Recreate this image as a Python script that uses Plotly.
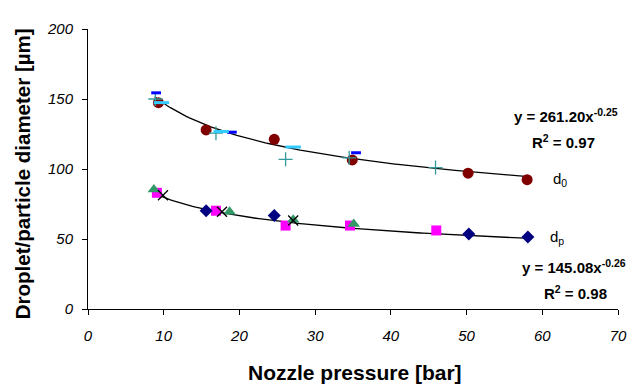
import numpy as np
import plotly.graph_objects as go

# ---- data ----
d0_circle_x = [9.3, 15.6, 24.6, 34.9, 50.2, 58.0]
d0_circle_y = [147.4, 127.9, 121.2, 106.5, 97.0, 92.4]
d0_plus_x = [8.9, 16.9, 26.1, 34.5, 45.9]
d0_plus_y = [150.0, 125.6, 106.9, 108.0, 101.0]
d0_bdash_x = [9.0, 19.0, 35.4]
d0_bdash_y = [154.4, 126.3, 111.6]
d0_cdash_x = [9.7, 17.6, 27.1]
d0_cdash_y = [147.4, 126.8, 115.7]

dp_diamond_x = [15.6, 24.6, 50.3, 58.1]
dp_diamond_y = [70.2, 66.7, 53.6, 51.5]
dp_square_x = [9.1, 16.9, 26.1, 34.6, 46.0]
dp_square_y = [83.0, 70.2, 59.6, 59.6, 56.1]
dp_triangle_x = [8.7, 18.7, 27.1, 35.1]
dp_triangle_y = [85.4, 69.5, 63.8, 60.8]
dp_x_x = [9.9, 17.7, 27.1]
dp_x_y = [81.2, 69.5, 63.2]

# power-law trendlines y = a * x^b
d0_fit_a, d0_fit_b = 261.20, -0.25
dp_fit_a, dp_fit_b = 145.08, -0.26
fit_x = np.linspace(8.8, 58.5, 120)

FONT = "Liberation Sans, Arial, sans-serif"

fig = go.Figure()

fig.add_trace(go.Scatter(x=fit_x, y=d0_fit_a * fit_x ** d0_fit_b, mode="lines",
                         line=dict(color="black", width=1.3)))
fig.add_trace(go.Scatter(x=fit_x, y=dp_fit_a * fit_x ** dp_fit_b, mode="lines",
                         line=dict(color="black", width=1.3)))

fig.add_trace(go.Scatter(x=d0_circle_x, y=d0_circle_y, mode="markers",
                         marker=dict(symbol="circle", size=11, color="#800000")))
fig.add_trace(go.Scatter(x=d0_plus_x, y=d0_plus_y, mode="markers",
                         marker=dict(symbol="cross-thin", size=10, color="#339999",
                                     line=dict(color="#339999", width=1.3))))
fig.add_trace(go.Scatter(x=d0_bdash_x, y=d0_bdash_y, mode="markers",
                         marker=dict(symbol="line-ew", size=7, color="#0000FF",
                                     line=dict(color="#0000FF", width=3))))
fig.add_trace(go.Scatter(x=d0_cdash_x, y=d0_cdash_y, mode="markers",
                         marker=dict(symbol="line-ew", size=11, color="#33CCFF",
                                     line=dict(color="#33CCFF", width=3))))

fig.add_trace(go.Scatter(x=dp_square_x, y=dp_square_y, mode="markers",
                         marker=dict(symbol="square", size=10, color="#FF00FF")))
fig.add_trace(go.Scatter(x=dp_triangle_x, y=dp_triangle_y, mode="markers",
                         marker=dict(symbol="triangle-up", size=11, color="#339966")))
fig.add_trace(go.Scatter(x=dp_diamond_x, y=dp_diamond_y, mode="markers",
                         marker=dict(symbol="diamond", size=10, color="#000080")))
fig.add_trace(go.Scatter(x=dp_x_x, y=dp_x_y, mode="markers",
                         marker=dict(symbol="x-thin", size=10, color="#000000",
                                     line=dict(color="#000000", width=1.3))))

ann = [
    dict(x=62.4, y=92.6, text="d<sub>0</sub>", size=15),
    dict(x=61.9, y=51.2, text="d<sub>p</sub>", size=15),
    dict(x=63.1, y=138.0, text="<b>y = 261.20x<sup>-0.25</sup></b>", size=15),
    dict(x=62.8, y=119.3, text="<b>R<sup>2</sup> = 0.97</b>", size=15),
    dict(x=64.2, y=30.5, text="<b>y = 145.08x<sup>-0.26</sup></b>", size=15),
    dict(x=64.4, y=11.9, text="<b>R<sup>2</sup> = 0.98</b>", size=15),
]
annotations = []
for a in ann:
    annotations.append(dict(xref="x", yref="y", showarrow=False,
                            xanchor="center", yanchor="middle",
                            font=dict(family=FONT, color="black", size=a["size"]),
                            x=a["x"], y=a["y"], text=a["text"]))
annotations.append(dict(xref="paper", yref="paper", x=0.503, y=-0.225,
                        text="<b>Nozzle pressure [bar]</b>", showarrow=False,
                        xanchor="center", yanchor="middle",
                        font=dict(family=FONT, size=21, color="black")))
annotations.append(dict(xref="paper", yref="paper", x=-0.123, y=0.484,
                        text="<b>Droplet/particle diameter [µm]</b>", showarrow=False,
                        textangle=-90, xanchor="center", yanchor="middle",
                        font=dict(family=FONT, size=20.5, color="black")))

# page body has an 8px margin, so the figure is offset by 8px in the window
fig.update_layout(
    width=631, height=377,
    margin=dict(l=80, r=14, t=16, b=76),
    paper_bgcolor="white", plot_bgcolor="white",
    showlegend=False,
    font=dict(family=FONT, color="black"),
    annotations=annotations,
    xaxis=dict(range=[0, 70], tickvals=list(range(0, 71, 10)),
               showgrid=False, zeroline=False, showline=True, linecolor="black",
               linewidth=1, ticks="outside", ticklen=5, tickcolor="black",
               ticklabelstandoff=8,
               tickfont=dict(family=FONT, size=15, style="italic", color="black")),
    yaxis=dict(range=[0, 200], tickvals=list(range(0, 201, 50)),
               showgrid=False, zeroline=False, showline=True, linecolor="black",
               linewidth=1, ticks="outside", ticklen=5, tickcolor="black",
               ticklabelstandoff=6,
               tickfont=dict(family=FONT, size=15, style="italic", color="black")),
)

fig.write_html("out.html")
